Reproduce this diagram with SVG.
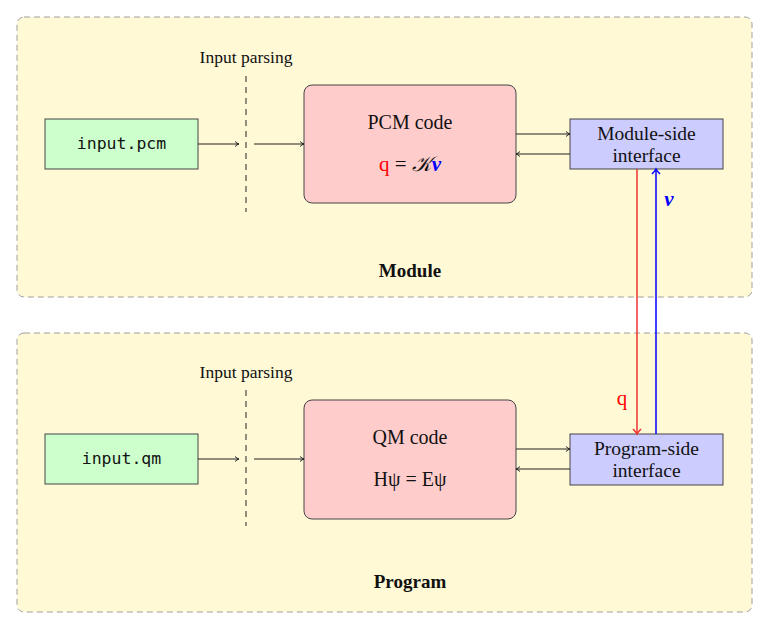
<svg xmlns="http://www.w3.org/2000/svg" width="769" height="630" viewBox="0 0 769 630">
<style>
.panel{fill:#fff9d6;stroke:#a0a0a0;stroke-width:1;stroke-dasharray:6 4}
.inp{fill:#ccffcc;stroke:#444;stroke-width:1}
.code{fill:#ffcccc;stroke:#444;stroke-width:1}
.ifc{fill:#ccccff;stroke:#444;stroke-width:1}
.t{font-family:"Liberation Serif","DejaVu Serif",serif;fill:#111;text-anchor:middle}
.m{font-family:"DejaVu Sans Mono","Liberation Mono",monospace;font-size:16.5px;fill:#111;text-anchor:middle}
.b{font-weight:bold;font-size:19px}
.c{stroke:#222;stroke-width:1;fill:none}
.dash{stroke:#222;stroke-width:1;stroke-dasharray:6 5;fill:none}
.red{fill:#ff0000}
.blue{fill:#0000ff;font-style:italic;font-weight:bold}
</style>
<defs>
<marker id="ah" markerWidth="8" markerHeight="8" refX="6" refY="4" orient="auto" markerUnits="userSpaceOnUse">
<path d="M2,1.5 Q4,3.5 6,4 Q4,4.5 2,6.5" fill="none" stroke="#222" stroke-width="1"/>
</marker>
<marker id="ahr" markerWidth="12" markerHeight="12" refX="9" refY="6" orient="auto" markerUnits="userSpaceOnUse">
<path d="M4,2 Q7,5 9,6 Q7,7 4,10" fill="none" stroke="#f03030" stroke-width="1.5"/>
</marker>
<marker id="ahb" markerWidth="12" markerHeight="12" refX="9" refY="6" orient="auto" markerUnits="userSpaceOnUse">
<path d="M4,2 Q7,5 9,6 Q7,7 4,10" fill="none" stroke="#0000ff" stroke-width="1.5"/>
</marker>
</defs>
<g id="module-panel">
<rect class="panel" x="17" y="17" width="735" height="280" rx="7"/>
<text class="t b" x="410" y="277">Module</text>
</g>
<g id="program-panel">
<rect class="panel" x="17" y="333" width="735" height="279" rx="7"/>
<text class="t b" x="410" y="588">Program</text>
</g>
<g id="input-pcm">
<rect class="inp" x="45" y="119" width="153" height="50"/>
<text class="m" x="121.5" y="149">input.pcm</text>
</g>
<g id="parsing-top">
<text class="t" x="246" y="63" font-size="17.5">Input parsing</text>
<line class="dash" x1="246" y1="76" x2="246" y2="212"/>
</g>
<g id="pcm-code">
<rect class="code" x="304" y="85" width="212" height="118" rx="8"/>
<text class="t" x="410" y="129" font-size="20">PCM code</text>
<text class="t" x="410" y="171" font-size="21"><tspan class="red">q</tspan> = <tspan font-family="'DejaVu Serif',serif" font-style="italic">𝒦</tspan><tspan class="blue">v</tspan></text>
</g>
<g id="module-interface">
<rect class="ifc" x="570" y="119" width="153" height="50"/>
<text class="t" x="646.5" y="140" font-size="19.5">Module-side</text>
<text class="t" x="646.5" y="162" font-size="19.5">interface</text>
</g>
<g id="input-qm">
<rect class="inp" x="45" y="434" width="153" height="50"/>
<text class="m" x="121.5" y="464">input.qm</text>
</g>
<g id="parsing-bottom">
<text class="t" x="246" y="378" font-size="17.5">Input parsing</text>
<line class="dash" x1="246" y1="390" x2="246" y2="526"/>
</g>
<g id="qm-code">
<rect class="code" x="304" y="400" width="212" height="119" rx="8"/>
<text class="t" x="410" y="444" font-size="20">QM code</text>
<text class="t" x="410" y="486" font-size="20">Hψ = Eψ</text>
</g>
<g id="program-interface">
<rect class="ifc" x="570" y="434" width="153" height="51"/>
<text class="t" x="646.5" y="455" font-size="19.5">Program-side</text>
<text class="t" x="646.5" y="477" font-size="19.5">interface</text>
</g>
<g id="connectors">
<line class="c" x1="198" y1="144" x2="239" y2="144" marker-end="url(#ah)"/>
<line class="c" x1="254" y1="144" x2="304" y2="144" marker-end="url(#ah)"/>
<line class="c" x1="516" y1="134" x2="570" y2="134" marker-end="url(#ah)"/>
<line class="c" x1="570" y1="154" x2="516" y2="154" marker-end="url(#ah)"/>
<line class="c" x1="198" y1="459" x2="239" y2="459" marker-end="url(#ah)"/>
<line class="c" x1="254" y1="459" x2="304" y2="459" marker-end="url(#ah)"/>
<line class="c" x1="516" y1="449" x2="570" y2="449" marker-end="url(#ah)"/>
<line class="c" x1="570" y1="469" x2="516" y2="469" marker-end="url(#ah)"/>
<line x1="637" y1="169" x2="637" y2="434" stroke="#f03030" stroke-width="1.5" marker-end="url(#ahr)"/>
<line x1="656" y1="434" x2="656" y2="169" stroke="#0000ff" stroke-width="1.5" marker-end="url(#ahb)"/>
<text class="t blue" x="669" y="206" font-size="21">v</text>
<text class="t red" x="622" y="405" font-size="21">q</text>
</g>
</svg>
